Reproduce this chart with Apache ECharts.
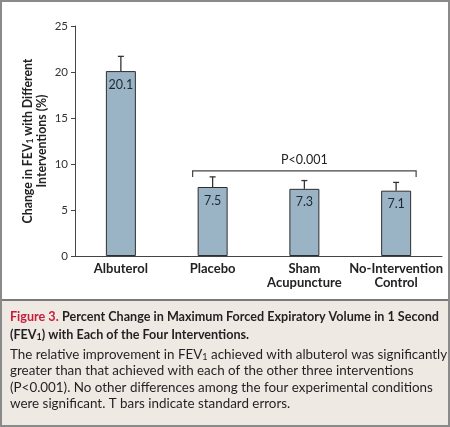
<!DOCTYPE html>
<html>
<head>
<meta charset="utf-8">
<script src="https://cdn.jsdelivr.net/npm/echarts@6/dist/echarts.min.js"></script>
<style>
html,body{margin:0;padding:0;background:#fff;}
#chart{width:450px;height:427px;}
</style>
</head>
<body>
<div id="chart"></div>
<script>
// ---- data ----
var categories = ['Albuterol', 'Placebo', 'Sham\nAcupuncture', 'No-Intervention\nControl'];
var values = [20.1, 7.5, 7.3, 7.1];
var errors = [1.6, 1.1, 0.9, 0.9];
var yTicks = [0, 5, 10, 15, 20, 25];
var bracket = { from: 1, to: 3, level: 9.25, label: 'P<0.001' };
var yNameLines = ['Change in FEV{s|1} with Different', 'Interventions (%)'];
var captionLines = [
  '{r|Figure 3.} {b|Percent Change in Maximum Forced Expiratory Volume in 1 Second}',
  '{b|(FEV}{bs|1}{b|) with Each of the Four Interventions.}',
  'The relative improvement in FEV{s|1} achieved with albuterol was significantly',
  'greater than that achieved with each of the other three interventions',
  '(P<0.001). No other differences among the four experimental conditions',
  'were significant. T bars indicate standard errors.'
];

var FONT = 'Lato, "Open Sans", "DejaVu Sans", sans-serif';
var chart = echarts.init(document.getElementById('chart'), null, {renderer: 'canvas'});

var errData = values.map(function (v, i) { return [i, v, errors[i]]; });
var captionY = [317, 335, 355, 371, 388, 404];
var yNameX = [28, 42];

var graphics = [
  { type: 'rect', shape: {x: 1, y: 300, width: 448, height: 126}, style: {fill: '#efe9e4'}, z: -1 },
  { type: 'line', shape: {x1: 1, y1: 300, x2: 449, y2: 300}, style: {stroke: '#7a7a7a', lineWidth: 2} },
  { type: 'rect', shape: {x: 1, y: 1, width: 448, height: 425}, style: {fill: 'none', stroke: '#8a8a8a', lineWidth: 2}, z: 10 }
];
yNameLines.forEach(function (t, i) {
  graphics.push({
    type: 'text', x: yNameX[i], y: 141, rotation: Math.PI / 2,
    style: { text: t, align: 'center', verticalAlign: 'middle', fill: '#222',
             font: 'bold 12.3px ' + FONT,
             rich: { s: {fontSize: 8.5, fontWeight: 'bold', fill: '#222', fontFamily: FONT, verticalAlign: 'bottom', lineHeight: 14} } }
  });
});
captionLines.forEach(function (t, i) {
  graphics.push({
    type: 'text', x: 10, y: captionY[i],
    style: {
      text: t, verticalAlign: 'middle', fill: '#231f20',
      font: '13.4px ' + FONT,
      rich: {
        r: {fontSize: 12.6, fontWeight: 'bold', fill: '#c41e3a', fontFamily: FONT},
        b: {fontSize: 12.6, fontWeight: 'bold', fill: '#231f20', fontFamily: FONT},
        bs: {fontSize: 9, fontWeight: 'bold', fill: '#231f20', fontFamily: FONT, verticalAlign: 'bottom', lineHeight: 14},
        s: {fontSize: 9, fill: '#231f20', fontFamily: FONT, verticalAlign: 'bottom', lineHeight: 14}
      }
    }
  });
});

chart.setOption({
  animation: false,
  backgroundColor: '#fff',
  textStyle: {fontFamily: FONT},
  grid: {left: 75, right: 8, top: 26, bottom: 171, containLabel: false},
  xAxis: {
    type: 'category',
    data: categories,
    axisLine: {lineStyle: {color: '#444', width: 1}},
    axisTick: {show: false},
    axisLabel: {color: '#222', fontSize: 13, fontWeight: 'bold', lineHeight: 14, margin: 6, interval: 0}
  },
  yAxis: {
    type: 'value', min: yTicks[0], max: yTicks[yTicks.length - 1], interval: 5,
    axisLine: {show: true, lineStyle: {color: '#444', width: 1}},
    axisTick: {show: true, length: 4, lineStyle: {color: '#444'}},
    splitLine: {show: false},
    axisLabel: {color: '#333', fontSize: 11.5, margin: 7}
  },
  series: [
    {
      type: 'bar', data: values, barWidth: 30,
      itemStyle: {color: '#9ab4c6', borderColor: '#2e2e2e', borderWidth: 1},
      label: {show: true, position: 'insideTop', distance: 7, color: '#1c2833', fontSize: 12.5, formatter: function (p) { return p.value.toFixed(1); }},
      z: 2
    },
    {
      type: 'custom', data: errData, z: 3,
      renderItem: function (params, api) {
        var x = api.value(0), v = api.value(1), e = api.value(2);
        var base = api.coord([x, v]);
        var top = api.coord([x, v + e]);
        var cap = 3;
        return {
          type: 'group',
          children: [
            {type: 'line', shape: {x1: base[0], y1: base[1], x2: top[0], y2: top[1]}, style: {stroke: '#333', lineWidth: 1.3}},
            {type: 'line', shape: {x1: top[0] - cap, y1: top[1], x2: top[0] + cap, y2: top[1]}, style: {stroke: '#333', lineWidth: 1.3}}
          ]
        };
      }
    },
    {
      type: 'custom', data: [[bracket.from, bracket.to, bracket.level]], z: 3,
      renderItem: function (params, api) {
        var a = api.coord([api.value(0), api.value(2)]);
        var b = api.coord([api.value(1), api.value(2)]);
        var pad = 20, drop = 6;
        var x1 = a[0] - pad, x2 = b[0] + pad, y = a[1];
        return {
          type: 'group',
          children: [
            {type: 'polyline', shape: {points: [[x1, y + drop], [x1, y], [x2, y], [x2, y + drop]]}, style: {stroke: '#444', lineWidth: 1.2, fill: 'none'}},
            {type: 'text', x: (x1 + x2) / 2, y: y - 11, style: {text: bracket.label, align: 'center', verticalAlign: 'middle', fill: '#222', font: '12.5px ' + FONT}}
          ]
        };
      }
    }
  ],
  graphic: graphics
});
</script>
</body>
</html>
